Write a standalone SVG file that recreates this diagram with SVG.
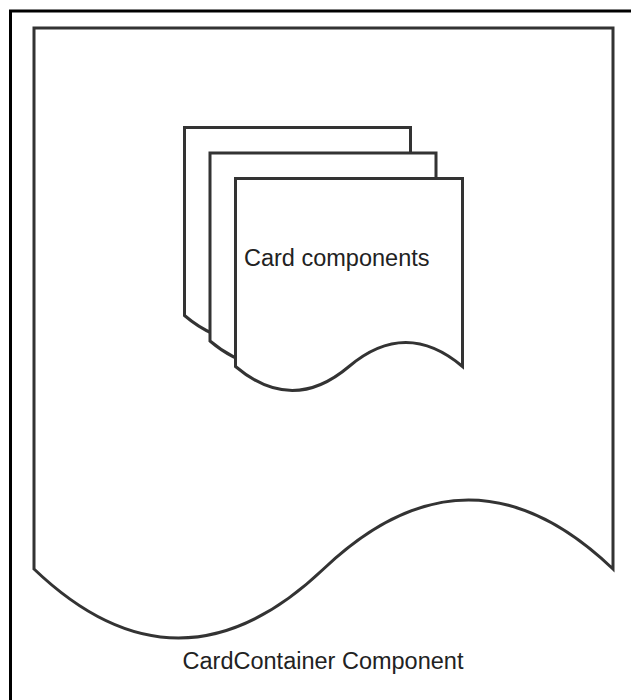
<svg xmlns="http://www.w3.org/2000/svg" width="631" height="700" viewBox="0 0 631 700">
<style>
.doc{fill:#fff;stroke:#333;stroke-width:3;stroke-linejoin:miter}
.lbl{font-family:"Liberation Sans",Arial,sans-serif;font-size:23.5px;fill:#222}
</style>
<rect width="631" height="700" fill="#fff"/>
<path d="M10.5,700 V11 H631" fill="none" stroke="#000" stroke-width="3"/>
<g id="cardcontainer">
<path class="doc" d="M34,28 H613 V569 Q468.75,431 323.5,569 Q178.25,707 34,569 Z"/>
<text class="lbl" x="323" y="669" text-anchor="middle">CardContainer Component</text>
</g>
<g id="card-back">
<path class="doc" d="M184.5,127.5 H410.5 V315.5 Q354,267.5 297.5,315.5 Q241,363.5 184.5,315.5 Z"/>
</g>
<g id="card-middle">
<path class="doc" d="M210,153 H436 V341 Q379.5,293 323,341 Q266.5,389 210,341 Z"/>
</g>
<g id="card-front">
<path class="doc" d="M235.5,178.5 H462.5 V366.5 Q405.75,318.5 349,366.5 Q292.25,414.5 235.5,366.5 Z"/>
<text class="lbl" x="244" y="266">Card components</text>
</g>
<g id="connectors"/>
</svg>
